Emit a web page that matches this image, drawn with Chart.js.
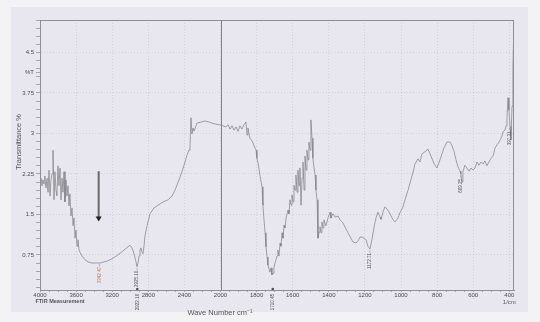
<!DOCTYPE html>
<html>
<head>
<meta charset="utf-8">
<style>
  html, body { margin: 0; padding: 0; background: #f3f3f6; }
  #wrap { position: relative; width: 540px; height: 322px; }
</style>
<script src="https://cdn.jsdelivr.net/npm/chart.js@4.4.0/dist/chart.umd.min.js"></script>
</head>
<body>
<div id="wrap"><canvas id="c" width="540" height="322"></canvas></div>
<script>
// DADOS DO ESPECTRO
const waveNumbers = [
  4000, 3989, 3978, 3967, 3956, 3945, 3934, 3922, 3911, 3900, 3889, 3878, 3867, 3856, 3845, 3834,
  3823, 3812, 3801, 3790, 3778, 3767, 3756, 3745, 3734, 3723, 3712, 3701, 3690, 3679, 3668, 3657,
  3645, 3634, 3623, 3612, 3601, 3590, 3579, 3568, 3557, 3535, 3501, 3468, 3424, 3380, 3335, 3291,
  3247, 3191, 3136, 3069, 3025, 3003, 2981, 2958, 2936, 2925, 2914, 2903, 2892, 2881, 2870, 2859,
  2848, 2837, 2814, 2781, 2737, 2693, 2637, 2582, 2537, 2504, 2460, 2427, 2393, 2371, 2349, 2338,
  2327, 2316, 2305, 2294, 2260, 2216, 2172, 2127, 2094, 2050, 2006,
  1986, 1970, 1958, 1947, 1936, 1925, 1914, 1903, 1892, 1881, 1870, 1859, 1853, 1848, 1837, 1825,
  1814, 1803, 1798, 1792, 1781, 1770, 1765, 1759, 1753, 1748, 1742, 1737, 1726, 1720, 1715, 1709,
  1704, 1698, 1687, 1682, 1676, 1670, 1665, 1659, 1654, 1648, 1643, 1637, 1626, 1621, 1615, 1609,
  1604, 1598, 1593, 1587, 1582, 1576, 1571, 1565, 1560, 1554, 1548, 1543, 1537, 1532, 1526, 1521,
  1515, 1510, 1504, 1499, 1493, 1488, 1482, 1476, 1471, 1465, 1460, 1454, 1449, 1443, 1438, 1432,
  1427, 1416, 1410, 1405, 1393, 1388, 1377, 1366, 1349, 1338, 1321, 1305, 1294, 1277, 1266, 1249,
  1238, 1227, 1216, 1205, 1194, 1183, 1172, 1161, 1150, 1139, 1128, 1116, 1111, 1100, 1089, 1072,
  1061, 1044, 1033, 1017, 1006, 989, 978, 961, 950, 934, 923, 906, 895, 884, 867, 851,
  834, 823, 812, 801, 784, 773, 762, 745, 728, 717, 706, 695, 684, 673, 668, 662,
  657, 646, 635, 623, 612, 601, 590, 579, 568, 557, 546, 535, 524, 513, 501, 490,
  479, 468, 457, 451, 441, 435, 424, 418, 413, 407, 402, 396, 391, 385, 380, 374
];
const transmittance = [
  2.10, 2.17, 2.03, 2.14, 2.06, 2.21, 1.99, 2.17, 1.91, 2.32, 1.84, 2.14, 2.25, 2.69, 1.77, 2.29,
  1.95, 1.84, 2.40, 2.03, 2.36, 1.77, 2.17, 1.91, 2.29, 1.73, 2.14, 1.84, 2.03, 1.66, 1.88, 1.47,
  1.62, 1.29, 1.43, 1.06, 1.21, 0.91, 1.03, 0.84, 0.80, 0.73, 0.66, 0.62, 0.60, 0.60, 0.60, 0.62,
  0.64, 0.69, 0.75, 0.84, 0.90, 0.93, 0.88, 0.77, 0.62, 0.53, 0.60, 0.73, 0.84, 0.88, 0.80, 0.77,
  0.91, 1.10, 1.29, 1.51, 1.62, 1.67, 1.73, 1.77, 1.84, 1.95, 2.14, 2.29, 2.47, 2.60, 2.69, 2.77,
  3.29, 2.99, 3.10, 3.04, 3.19, 3.21, 3.23, 3.21, 3.19, 3.17, 3.16,
  3.14, 3.12, 3.16, 3.08, 3.14, 3.06, 3.12, 3.04, 3.14, 3.08, 3.16, 3.21, 2.97, 3.10, 2.91, 2.86,
  2.77, 2.69, 2.54, 2.45, 2.21, 2.01, 1.67, 1.40, 1.16, 0.90, 0.71, 0.56, 0.43, 0.51, 0.38, 0.41,
  0.51, 0.60, 0.73, 0.84, 0.73, 0.97, 0.91, 1.16, 1.06, 1.30, 1.25, 1.43, 1.58, 1.51, 1.77, 1.67,
  1.86, 1.73, 2.04, 1.95, 2.23, 1.91, 2.32, 2.03, 2.36, 1.67, 2.17, 2.47, 1.95, 2.58, 2.32, 2.69,
  2.51, 2.84, 2.69, 3.25, 2.91, 2.54, 2.36, 2.23, 1.95, 1.77, 1.06, 1.17, 1.27, 1.16, 1.36, 1.25,
  1.40, 1.29, 1.36, 1.43, 1.54, 1.43, 1.51, 1.45, 1.47, 1.40, 1.34, 1.23, 1.16, 1.06, 0.99, 0.97,
  1.01, 1.08, 1.08, 1.06, 1.03, 0.91, 0.86, 1.03, 1.25, 1.43, 1.54, 1.45, 1.41, 1.54, 1.64, 1.58,
  1.51, 1.40, 1.36, 1.43, 1.53, 1.64, 1.77, 1.95, 2.08, 2.27, 2.43, 2.53, 2.47, 2.62, 2.66, 2.71,
  2.58, 2.49, 2.41, 2.36, 2.51, 2.62, 2.73, 2.84, 2.84, 2.77, 2.66, 2.51, 2.38, 2.30, 2.25, 2.10,
  2.29, 2.41, 2.36, 2.30, 2.36, 2.32, 2.36, 2.47, 2.41, 2.47, 2.43, 2.49, 2.40, 2.47, 2.54, 2.58,
  2.73, 2.79, 2.84, 2.88, 2.95, 3.03, 3.06, 3.14, 3.29, 3.66, 3.43, 3.13, 2.88, 3.50, 4.23, 5.06
];

// EIXOS
const xMajorTicks = [4000, 3600, 3200, 2800, 2400, 2000, 1800, 1600, 1400, 1200, 1000, 800, 600, 400];
const yMajorTicks = [0.75, 1.5, 2.25, 3, 3.75, 4.5];
const yUnitTick = 4.125;       // onde fica o "%T"
const xMin = 374;
const yMin = 0.1;
const yMax = 5.1;

// PICOS MARCADOS
const curvePeaks = [3342.47, 2925.10, 1172.71, 669.25, 397.31];
const axisPeaks = [2922.16, 1710.45];

// SETA
const arrowWave = 3350;
const arrowFrom = 2.3;
const arrowTo = 1.37;

// escala do FTIR muda em 2000 (metade da escala a direita)
function toAxis(wn) { return wn >= 2000 ? wn : 2 * wn - 2000; }
function fromAxis(v) { return v >= 2000 ? v : (v + 2000) / 2; }
function isMajorX(v) { return xMajorTicks.some(t => Math.abs(toAxis(t) - v) < 0.01); }
function isMajorY(v) { return yMajorTicks.some(t => Math.abs(t - v) < 1e-6); }

function nearestT(wn) {
  let best = 0;
  for (let i = 1; i < waveNumbers.length; i++) {
    if (Math.abs(waveNumbers[i] - wn) < Math.abs(waveNumbers[best] - wn)) best = i;
  }
  return transmittance[best];
}

const points = waveNumbers.map((w, i) => ({ x: toAxis(w), y: transmittance[i] }));

const FONT = '"Liberation Sans", Arial, sans-serif';

const paper = {
  id: 'paper',
  beforeDraw(chart) {
    const c = chart.ctx;
    c.save();
    c.fillStyle = '#f3f3f6';
    c.fillRect(0, 0, chart.width, chart.height);
    c.fillStyle = '#e8e7ef';
    c.fillRect(11, 7, 517, 305);
    c.restore();
  }
};

const overlay = {
  id: 'overlay',
  afterDraw(chart) {
    const c = chart.ctx;
    const a = chart.chartArea;
    const xs = chart.scales.x;
    const ys = chart.scales.y;
    c.save();

    // moldura
    c.strokeStyle = '#8e8e94';
    c.lineWidth = 1;
    c.strokeRect(a.left + 0.5, a.top + 0.5, a.right - a.left - 1, a.bottom - a.top);

    // linha de mudanca de escala em 2000
    const x2000 = Math.round(xs.getPixelForValue(toAxis(2000))) + 0.5;
    c.strokeStyle = '#808086';
    c.beginPath();
    c.moveTo(x2000, a.top);
    c.lineTo(x2000, a.bottom);
    c.stroke();

    // seta
    const ax = xs.getPixelForValue(toAxis(arrowWave));
    const ay1 = ys.getPixelForValue(arrowFrom);
    const ay2 = ys.getPixelForValue(arrowTo);
    c.strokeStyle = '#6a6a6a';
    c.lineWidth = 2;
    c.beginPath();
    c.moveTo(ax, ay1);
    c.lineTo(ax, ay2 - 4);
    c.stroke();
    c.fillStyle = '#1e1e1e';
    c.beginPath();
    c.moveTo(ax - 3, ay2 - 5);
    c.lineTo(ax + 3, ay2 - 5);
    c.lineTo(ax, ay2);
    c.closePath();
    c.fill();

    // rotulos dos picos
    c.font = '4.5px ' + FONT;
    c.textAlign = 'center';
    c.textBaseline = 'middle';
    c.lineWidth = 0.6;
    curvePeaks.forEach((p, i) => {
      const px = xs.getPixelForValue(toAxis(p));
      const py = ys.getPixelForValue(nearestT(p));
      const top = py + 4;
      c.strokeStyle = '#9a9aa0';
      c.beginPath();
      c.moveTo(px, py + 1);
      c.lineTo(px, top);
      c.stroke();
      c.save();
      c.translate(px, top + 8);
      c.rotate(-Math.PI / 2);
      c.fillStyle = i === 0 ? '#b08050' : '#505055';
      c.fillText(p.toFixed(2), 0, 0);
      c.restore();
    });
    axisPeaks.forEach(p => {
      const px = xs.getPixelForValue(toAxis(p));
      c.fillStyle = '#505055';
      c.beginPath();
      c.arc(px, a.bottom - 1, 1.3, 0, Math.PI * 2);
      c.fill();
      c.save();
      c.translate(px, a.bottom + 12);
      c.rotate(-Math.PI / 2);
      c.fillText(p.toFixed(2), 0, 0);
      c.restore();
    });

    // textos
    c.fillStyle = '#55555a';
    c.font = 'bold 5.5px ' + FONT;
    c.textAlign = 'center';
    c.fillText('FTIR Measurement', 60, 301);
    c.font = '6px ' + FONT;
    c.fillText('1/cm', xs.getPixelForValue(toAxis(400)), 302);
    c.font = '7.5px ' + FONT;
    c.fillText('Wave Number cm\u207B\u00B9', 220, 313);
    c.save();
    c.translate(19, 142);
    c.rotate(-Math.PI / 2);
    c.fillText('Transmittance %', 0, 0);
    c.restore();
    c.restore();
  }
};

const xTicks = [];
for (let w = 4000; w >= 2100; w -= 100) xTicks.push(toAxis(w));
for (let w = 2000; w >= 400; w -= 50) xTicks.push(toAxis(w));

const yTicks = [];
for (let k = 1; k * 0.15 <= yMax + 1e-6; k++) yTicks.push(Math.round(k * 15) / 100);
yTicks.push(yUnitTick);

new Chart(document.getElementById('c'), {
  type: 'line',
  data: {
    datasets: [{
      data: points,
      borderColor: '#7c7c82',
      borderWidth: 0.7,
      pointRadius: 0,
      tension: 0,
      fill: false
    }]
  },
  options: {
    responsive: false,
    animation: false,
    devicePixelRatio: 1,
    layout: { padding: { left: 0, top: 20, right: 26, bottom: 0 } },
    plugins: { legend: { display: false }, tooltip: { enabled: false } },
    scales: {
      x: {
        type: 'linear',
        reverse: true,
        min: toAxis(xMin),
        max: 4000,
        afterBuildTicks: s => { s.ticks = xTicks.map(v => ({ value: v })); },
        afterFit: s => { s.height = 32; },
        ticks: {
          autoSkip: false,
          maxRotation: 0,
          padding: 0,
          color: '#4a4a50',
          font: { family: FONT, size: 6 },
          callback: v => isMajorX(v) ? String(fromAxis(v)) : ''
        },
        grid: {
          color: ctx => isMajorX(ctx.tick.value) ? 'rgba(150,150,160,0.4)' : 'transparent',
          tickColor: '#8a8a90',
          tickLength: 2,
          lineWidth: 0.7
        },
        border: { display: true, color: '#8a8a90', dash: [1, 2] }
      },
      y: {
        type: 'linear',
        min: yMin,
        max: yMax,
        afterBuildTicks: s => { s.ticks = yTicks.map(v => ({ value: v })); },
        afterFit: s => { s.width = 40; },
        ticks: {
          autoSkip: false,
          padding: 2,
          color: '#4a4a50',
          font: { family: FONT, size: 6 },
          callback: v => Math.abs(v - yUnitTick) < 1e-6 ? '%T' : (isMajorY(v) ? String(v) : '')
        },
        grid: {
          color: ctx => isMajorY(ctx.tick.value) ? 'rgba(150,150,160,0.4)' : 'transparent',
          tickColor: '#8a8a90',
          tickLength: 4,
          lineWidth: 0.7
        },
        border: { display: true, color: '#8a8a90', dash: [1, 2] }
      }
    }
  },
  plugins: [paper, overlay]
});
</script>
</body>
</html>
